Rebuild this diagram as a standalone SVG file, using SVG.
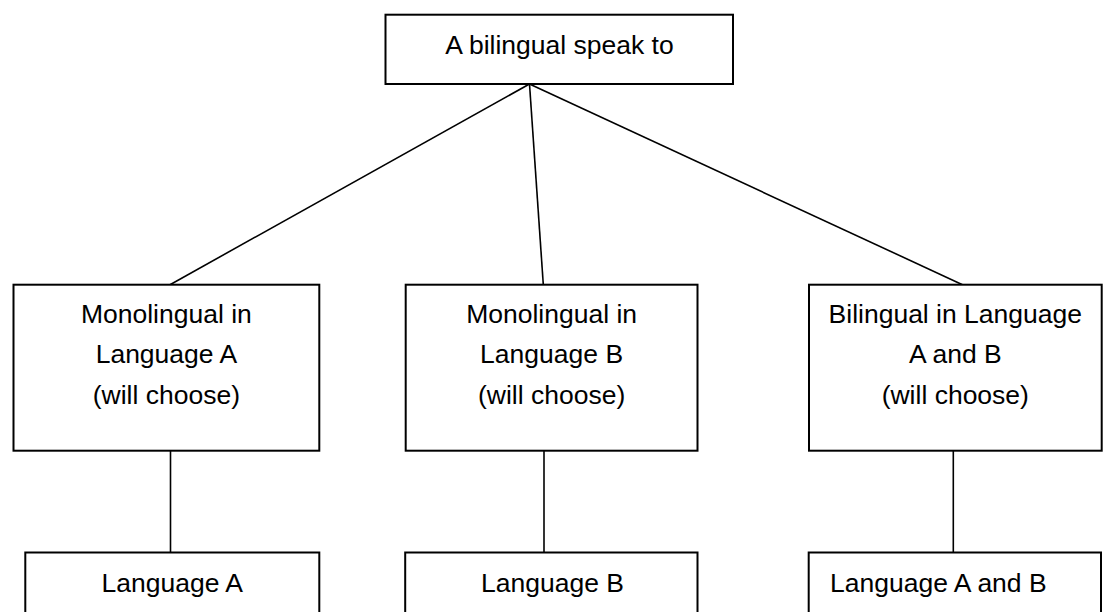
<svg xmlns="http://www.w3.org/2000/svg" width="1107" height="612" viewBox="0 0 1107 612">
<style>
.box{fill:#fff;stroke:#000;stroke-width:2}
.lbl{font-family:"Liberation Sans",Arial,sans-serif;font-size:26.5px;fill:#000;text-anchor:middle}
.start{text-anchor:start}
.conn line{stroke:#000;stroke-width:1.6}
</style>
<rect width="1107" height="612" fill="#fff"/>
<g id="connectors" class="conn">
<line x1="529.5" y1="84" x2="170" y2="284.7"/>
<line x1="529.5" y1="84" x2="543.3" y2="284.7"/>
<line x1="529.5" y1="84" x2="962.5" y2="284.7"/>
<line x1="170.5" y1="450.7" x2="170.5" y2="552.5"/>
<line x1="544" y1="450.7" x2="544" y2="552.5"/>
<line x1="953.3" y1="450.7" x2="953.3" y2="552.5"/>
</g>
<g id="top">
<rect class="box" x="385.5" y="14.7" width="347.5" height="69.3"/>
<text class="lbl" x="559.5" y="53.5">A bilingual speak to</text>
</g>
<g id="monoA">
<rect class="box" x="13.5" y="284.7" width="305.8" height="166"/>
<text class="lbl" x="166.4" y="322.5">Monolingual in</text>
<text class="lbl" x="166.4" y="363">Language A</text>
<text class="lbl" x="166.4" y="403.5">(will choose)</text>
</g>
<g id="monoB">
<rect class="box" x="405.7" y="284.7" width="291.8" height="166"/>
<text class="lbl" x="551.6" y="322.5">Monolingual in</text>
<text class="lbl" x="551.6" y="363">Language B</text>
<text class="lbl" x="551.6" y="403.5">(will choose)</text>
</g>
<g id="biAB">
<rect class="box" x="809" y="284.7" width="292.7" height="166"/>
<text class="lbl" x="955.3" y="322.5">Bilingual in Language</text>
<text class="lbl" x="955.3" y="363">A and B</text>
<text class="lbl" x="955.3" y="403.5">(will choose)</text>
</g>
<g id="langA">
<rect class="box" x="25.3" y="552.5" width="294" height="70"/>
<text class="lbl" x="172.3" y="591.7">Language A</text>
</g>
<g id="langB">
<rect class="box" x="405.2" y="552.5" width="292.3" height="70"/>
<text class="lbl" x="552.5" y="591.7">Language B</text>
</g>
<g id="langAB">
<rect class="box" x="808.7" y="552.5" width="292.3" height="70"/>
<text class="lbl start" x="830" y="591.7">Language A and B</text>
</g>
</svg>
